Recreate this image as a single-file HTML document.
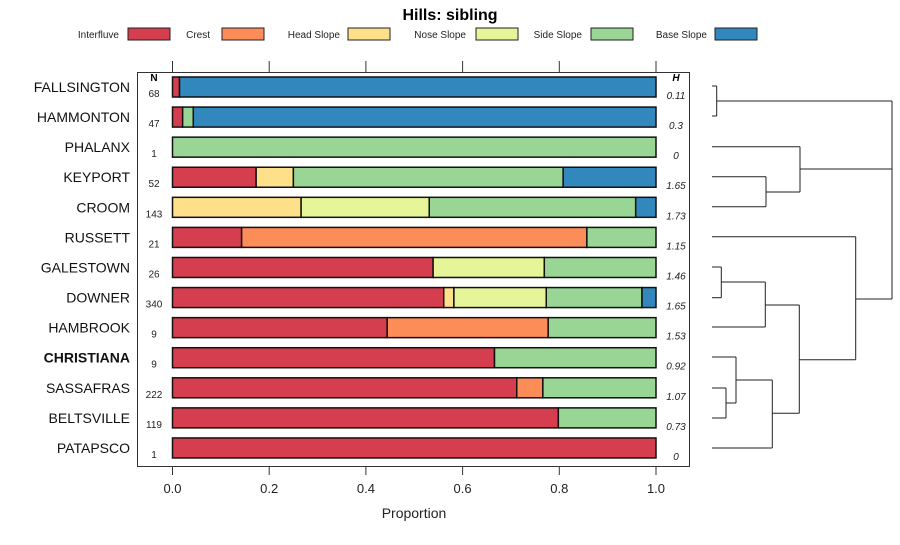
<!DOCTYPE html>
<html><head><meta charset="utf-8"><style>
body{margin:0;background:#fff;font-family:"Liberation Sans",sans-serif;}
svg text{font-family:"Liberation Sans",sans-serif;}
</style></head><body>
<svg id="c" width="900" height="540" xmlns="http://www.w3.org/2000/svg"></svg>
<script>
const classes=["Interfluve","Crest","Head Slope","Nose Slope","Side Slope","Base Slope"];
const colors=["#D53E4F","#FC8D59","#FEE08B","#E6F598","#99D594","#3288BD"];
const series=["FALLSINGTON","HAMMONTON","PHALANX","KEYPORT","CROOM","RUSSETT","GALESTOWN","DOWNER","HAMBROOK","CHRISTIANA","SASSAFRAS","BELTSVILLE","PATAPSCO"];
const nCounts=[68,47,1,52,143,21,26,340,9,9,222,119,1];
const hValues=["0.11","0.3","0","1.65","1.73","1.15","1.46","1.65","1.53","0.92","1.07","0.73","0"];
const interfluve=[0.0145,0.021,0,0.173,0,0.143,0.539,0.561,0.444,0.666,0.712,0.798,1];
const crest=[0,0,0,0,0,0.714,0,0,0.333,0,0.054,0,0];
const headSlope=[0,0,0,0.077,0.266,0,0,0.021,0,0,0,0,0];
const noseSlope=[0,0,0,0,0.265,0,0.230,0.191,0,0,0,0,0];
const sideSlope=[0,0.022,1,0.558,0.427,0.143,0.231,0.198,0.223,0.334,0.234,0.202,0];
const baseSlope=[0.9855,0.957,0,0.192,0.042,0,0,0.029,0,0,0,0,0];
const xTicks=[0,0.2,0.4,0.6,0.8,1.0];
const xTickLabels=["0.0","0.2","0.4","0.6","0.8","1.0"];
const allSeries=[interfluve,crest,headSlope,noseSlope,sideSlope,baseSlope];

const svg=document.getElementById('c');
const NS="http://www.w3.org/2000/svg";
function mk(tag,attrs,parent){const e=document.createElementNS(NS,tag);for(const k in attrs)e.setAttribute(k,attrs[k]);(parent||svg).appendChild(e);return e;}
const X=v=>172.5+v*(656-172.5);
const Y=i=>87+i*30.08;

let t=mk('text',{x:450,y:20,'text-anchor':'middle','font-size':'16','font-weight':'bold'});t.textContent="Hills: sibling";



const legX=[[119,128],[210,222],[340,348],[466,476],[582,591],[707,715]];
classes.forEach((c,i)=>{
  const g=mk('g',{});
  
  
  const tt=mk('text',{x:legX[i][0],y:38,'text-anchor':'end','font-size':'10',fill:'#222'},g);tt.textContent=c;
  mk('rect',{x:legX[i][1],y:28,width:42,height:12,fill:colors[i],stroke:'#222','stroke-width':1},g);
});

const panel=mk('rect',{x:137.5,y:72.5,width:552,height:394,fill:'none',stroke:'#333','stroke-width':1});



xTicks.forEach((v,i)=>{
  mk('line',{x1:X(v),x2:X(v),y1:61,y2:72,stroke:'#333'});
  mk('line',{x1:X(v),x2:X(v),y1:467,y2:475,stroke:'#333'});
  const l=mk('text',{x:X(v),y:493,'text-anchor':'middle','font-size':'13',fill:'#222'});l.textContent=xTickLabels[i];
  
  
});
t=mk('text',{x:414,y:518,'text-anchor':'middle','font-size':'14',fill:'#222'});t.textContent="Proportion";



t=mk('text',{x:154,y:81,'text-anchor':'middle','font-size':'10','font-weight':'bold'});t.textContent="N";
t=mk('text',{x:676,y:81,'text-anchor':'middle','font-size':'10','font-weight':'bold','font-style':'italic'});t.textContent="H";

series.forEach((s,i)=>{
  const y=Y(i);
  const lab=mk('text',{x:130,y:y+5,'text-anchor':'end','font-size':'14',fill:'#111','font-weight':s==="CHRISTIANA"?'bold':'normal'});lab.textContent=s;
  
  
  const n=mk('text',{x:154,y:y+10,'text-anchor':'middle','font-size':'10',fill:'#222'});n.textContent=nCounts[i];
  
  
  const h=mk('text',{x:676,y:y+12,'text-anchor':'middle','font-size':'10','font-style':'italic',fill:'#222'});h.textContent=hValues[i];
  
  
  let cum=0;
  allSeries.forEach((arr,k)=>{
    const v=arr[i];if(v<=0)return;
    const r=mk('rect',{x:X(cum),y:y-10,width:X(cum+v)-X(cum),height:20,fill:colors[k],stroke:'#111','stroke-width':1.5});
    
    
    cum+=v;
  });
});

// dendrogram
const dg=mk('g',{stroke:'#222','stroke-width':1,fill:'none'});


const L=712;
const segs=[
 [L,86,716.7,86],[L,116,716.7,116],[716.7,86,716.7,116],[716.7,101,892,101],
 [L,146.7,800,146.7],[L,176.7,766,176.7],[L,206.7,766,206.7],[766,176.7,766,206.7],[766,192,800,192],[800,146.7,800,192],[800,169,892,169],
 [892,101,892,299],[855.7,299,892,299],
 [L,236.7,855.7,236.7],[855.7,236.7,855.7,359.7],[799.3,359.7,855.7,359.7],
 [L,267,721.3,267],[L,297.7,721.3,297.7],[721.3,267,721.3,297.7],[721.3,282,765.3,282],[L,327,765.3,327],[765.3,282,765.3,327],[765.3,305,799.3,305],
 [799.3,305,799.3,413.3],
 [L,357,736,357],[L,388,726,388],[L,418,726,418],[726,388,726,418],[726,403,736,403],[736,357,736,403],[736,380,772.3,380],[L,448,772.3,448],[772.3,380,772.3,448],[772.3,413.3,799.3,413.3]
];
segs.forEach(s=>mk('line',{x1:s[0],y1:s[1],x2:s[2],y2:s[3]},dg));
</script>
</body></html>
